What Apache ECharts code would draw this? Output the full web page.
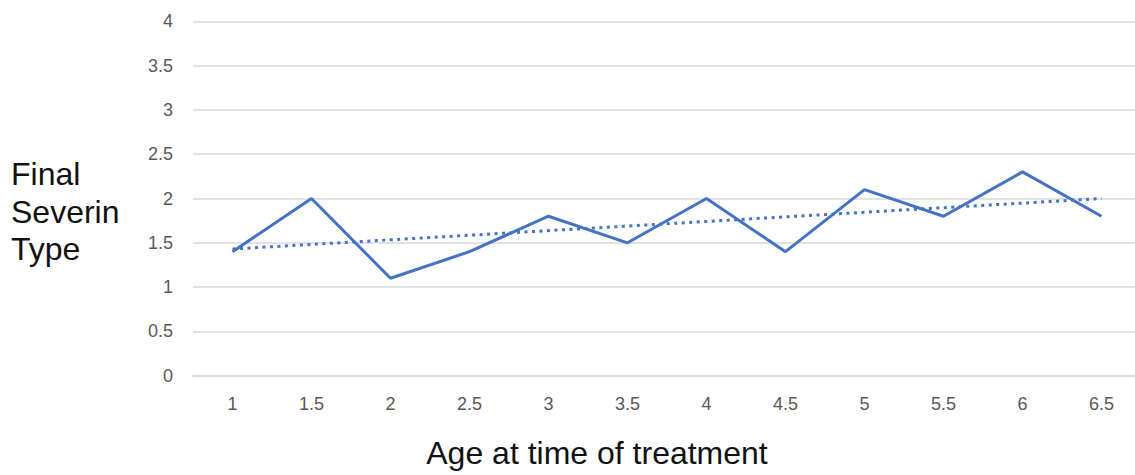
<!DOCTYPE html>
<html>
<head>
<meta charset="utf-8">
<script src="https://cdn.jsdelivr.net/npm/echarts@6/dist/echarts.min.js"></script>
<style>
html,body{margin:0;padding:0;background:#fff;}
#chart{width:1135px;height:475px;}
</style>
</head>
<body>
<div id="chart"></div>
<script>
const categories = ['1','1.5','2','2.5','3','3.5','4','4.5','5','5.5','6','6.5'];
const severinValues = [1.4, 2.0, 1.1, 1.4, 1.8, 1.5, 2.0, 1.4, 2.1, 1.8, 2.3, 1.8];
const trendValues = [1.43, null, null, null, null, null, null, null, null, null, null, 2.0];
const yTitleLines = ['Final', 'Severin', 'Type'];
const xTitle = 'Age at time of treatment';

const chart = echarts.init(document.getElementById('chart'), null, {renderer: 'svg'});
const graphics = yTitleLines.map((t, i) => ({
  type: 'text', left: 11, top: 176 + i * 37.5 - 18,
  style: {text: t, fill: '#111', font: '32px "Liberation Sans", Arial, sans-serif'}
}));
graphics.push({
  type: 'text', x: 597, y: 453,
  style: {text: xTitle, fill: '#111', font: '32px "Liberation Sans", Arial, sans-serif',
          textAlign: 'center', textVerticalAlign: 'middle'}
});

chart.setOption({
  animation: false,
  backgroundColor: '#fff',
  grid: {left: 193, top: 21.3, bottom: 99.3, width: 948, containLabel: false, outerBoundsMode: 'none'},
  xAxis: {
    type: 'category', data: categories, boundaryGap: true,
    axisLine: {show: true, lineStyle: {color: '#d9d9d9', width: 1.5}},
    axisTick: {show: false},
    axisLabel: {margin: 19, fontSize: 18, color: '#595959', fontFamily: 'Liberation Sans, Arial, sans-serif'},
    splitLine: {show: false}
  },
  yAxis: {
    type: 'value', min: 0, max: 4, interval: 0.5,
    axisLine: {show: false}, axisTick: {show: false},
    axisLabel: {margin: 20, fontSize: 18, color: '#595959', fontFamily: 'Liberation Sans, Arial, sans-serif'},
    splitLine: {show: true, lineStyle: {color: '#d9d9d9', width: 1.5}}
  },
  graphic: graphics,
  series: [
    {
      type: 'line', data: severinValues, symbol: 'none',
      lineStyle: {color: '#4472C4', width: 3}, z: 3
    },
    {
      type: 'line', data: trendValues, symbol: 'none', connectNulls: true,
      lineStyle: {color: '#4472C4', width: 3, type: [3, 4.5]}, z: 2
    }
  ]
});
</script>
</body>
</html>
